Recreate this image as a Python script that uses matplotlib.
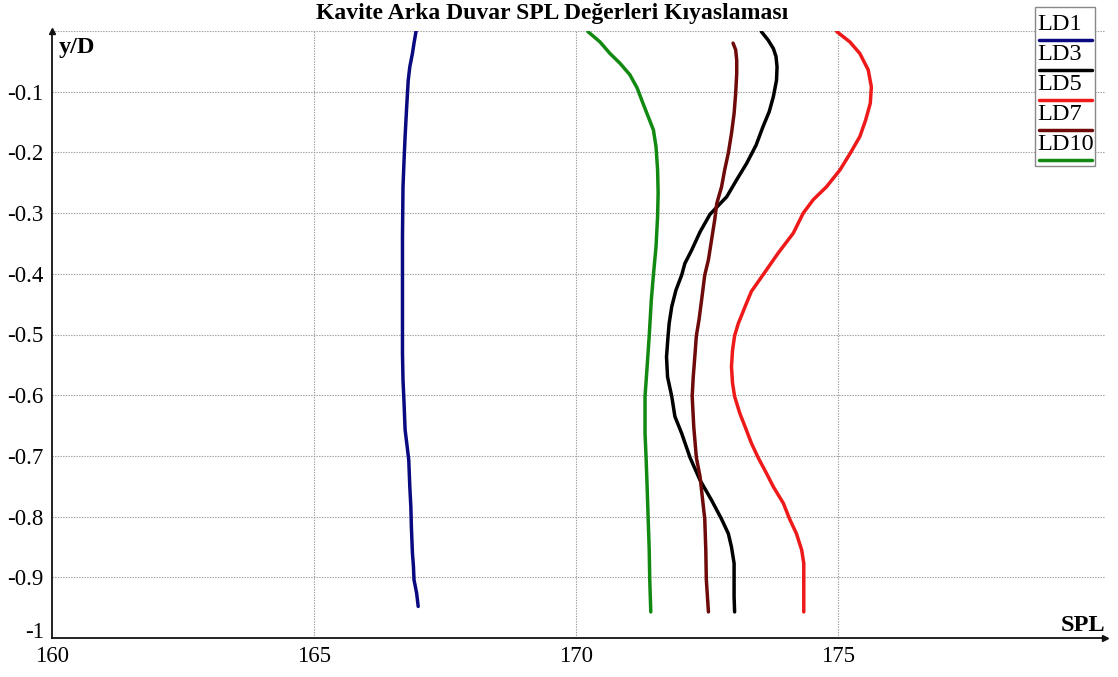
import matplotlib
matplotlib.use("Agg")
import matplotlib.pyplot as plt
from matplotlib.lines import Line2D
from matplotlib.patches import Rectangle

plt.rcParams['font.family'] = ['Liberation Serif', 'DejaVu Serif']

# SPL profiles along the cavity back wall (x: SPL, y: y/D)
ld1_spl = [166.95, 166.91, 166.88, 166.83, 166.80, 166.77, 166.74, 166.72, 166.70,
           166.69, 166.69, 166.69, 166.70, 166.72, 166.74, 166.78, 166.81, 166.83,
           166.85, 166.86, 166.88, 166.90, 166.91, 166.96, 166.99]
ld1_y = [0.0, -0.020, -0.037, -0.059, -0.081, -0.125, -0.174, -0.213, -0.257,
         -0.339, -0.421, -0.531, -0.575, -0.613, -0.657, -0.685, -0.707, -0.751,
         -0.784, -0.817, -0.860, -0.883, -0.904, -0.926, -0.948]

ld3_spl = [173.54, 173.67, 173.77, 173.82, 173.84, 173.83, 173.77, 173.69, 173.57,
           173.44, 173.26, 173.07, 172.88, 172.56, 172.37, 172.21, 172.08, 172.02,
           171.91, 171.83, 171.78, 171.76, 171.73, 171.75, 171.83, 171.89, 172.02,
           172.18, 172.37, 172.59, 172.78, 172.91, 172.97, 173.02, 173.02, 173.02,
           173.03]
ld3_y = [-0.001, -0.015, -0.029, -0.042, -0.059, -0.081, -0.108, -0.133, -0.158,
         -0.188, -0.218, -0.245, -0.273, -0.302, -0.331, -0.361, -0.383, -0.402,
         -0.427, -0.454, -0.482, -0.502, -0.537, -0.570, -0.602, -0.635, -0.663,
         -0.703, -0.740, -0.773, -0.804, -0.828, -0.850, -0.877, -0.904, -0.932,
         -0.957]

ld5_spl = [174.98, 175.23, 175.42, 175.58, 175.64, 175.62, 175.53, 175.42, 175.24,
           175.04, 174.78, 174.53, 174.34, 174.15, 173.86, 173.57, 173.35, 173.23,
           173.10, 173.03, 172.99, 172.97, 172.99, 173.03, 173.13, 173.23, 173.35,
           173.48, 173.64, 173.77, 173.96, 174.08, 174.21, 174.31, 174.35, 174.35,
           174.35]
ld5_y = [-0.001, -0.018, -0.037, -0.064, -0.092, -0.119, -0.147, -0.174, -0.201,
         -0.229, -0.257, -0.278, -0.300, -0.333, -0.366, -0.402, -0.429, -0.454,
         -0.482, -0.502, -0.526, -0.553, -0.580, -0.602, -0.630, -0.652, -0.679,
         -0.703, -0.729, -0.751, -0.778, -0.804, -0.828, -0.855, -0.877, -0.904,
         -0.957]

ld7_spl = [173.00, 173.05, 173.07, 173.07, 173.05, 173.02, 172.97, 172.91, 172.84,
           172.78, 172.69, 172.65, 172.59, 172.53, 172.46, 172.40, 172.35, 172.30,
           172.27, 172.24, 172.22, 172.25, 172.30, 172.37, 172.42, 172.46, 172.48,
           172.49, 172.53]
ld7_y = [-0.020, -0.031, -0.048, -0.070, -0.103, -0.136, -0.169, -0.201, -0.229,
         -0.257, -0.284, -0.311, -0.344, -0.377, -0.402, -0.443, -0.476, -0.502,
         -0.537, -0.570, -0.602, -0.652, -0.703, -0.734, -0.773, -0.804, -0.855,
         -0.904, -0.957]

ld10_spl = [170.23, 170.46, 170.65, 170.84, 171.03, 171.17, 171.28, 171.38, 171.48,
            171.53, 171.56, 171.57, 171.56, 171.53, 171.48, 171.44, 171.40, 171.36,
            171.32, 171.32, 171.34, 171.36, 171.38, 171.40, 171.41, 171.43]
ld10_y = [-0.001, -0.018, -0.037, -0.053, -0.072, -0.094, -0.119, -0.141, -0.163,
          -0.191, -0.229, -0.267, -0.305, -0.355, -0.402, -0.443, -0.502, -0.553,
          -0.602, -0.663, -0.703, -0.751, -0.804, -0.855, -0.904, -0.957]

series_names = ["LD1", "LD3", "LD5", "LD7", "LD10"]
series_x = [ld1_spl, ld3_spl, ld5_spl, ld7_spl, ld10_spl]
series_y = [ld1_y, ld3_y, ld5_y, ld7_y, ld10_y]
colors = ["#0a0a80", "#000000", "#ee1a1a", "#6e0a0a", "#128a12"]

x_ticks = [160, 165, 170, 175]
y_ticks = [-0.1, -0.2, -0.3, -0.4, -0.5, -0.6, -0.7, -0.8, -0.9, -1.0]
y_tick_labels = ["-0.1", "-0.2", "-0.3", "-0.4", "-0.5", "-0.6", "-0.7", "-0.8", "-0.9", "-1"]

fig = plt.figure(figsize=(11.18, 6.77), dpi=100)
ax = fig.add_axes([52 / 1118, 39 / 677, 1053 / 1118, 607 / 677])
ax.set_xlim(160, 180.1)
ax.set_ylim(-1.0, 0.0)

# dotted grid
grid_kw = dict(color="#9a9a9a", lw=0.8, linestyle=(0, (1.2, 1.2)), zorder=0)
for gx in [165, 170, 175]:
    ax.axvline(gx, **grid_kw)
for gy in [0.0, -0.1, -0.2, -0.3, -0.4, -0.5, -0.6, -0.7, -0.8, -0.9]:
    ax.axhline(gy, **grid_kw)

for xs, ys, c in zip(series_x, series_y, colors):
    ax.plot(xs, ys, color=c, lw=2.5, solid_capstyle="round", solid_joinstyle="round", zorder=3)

for s in ["top", "right"]:
    ax.spines[s].set_visible(False)
for s in ["left", "bottom"]:
    ax.spines[s].set_linewidth(1.3)
    ax.spines[s].set_color("#111111")

ax.plot(1, 0, ">", color="#111111", ms=5, transform=ax.transAxes, clip_on=False)
ax.plot(0, 1, "^", color="#111111", ms=5, transform=ax.transAxes, clip_on=False)

ax.set_xticks(x_ticks)
ax.set_xticklabels([str(t) for t in x_ticks], fontsize=16.5)
ax.set_yticks(y_ticks)
ax.set_yticklabels(y_tick_labels, fontsize=16.5)
ax.tick_params(axis="y", length=0, pad=6)
ax.tick_params(axis="x", length=0, pad=6)
# keep the bottom y label clear of the first x label
for lbl in ax.get_yticklabels():
    if lbl.get_text() == "-1":
        lbl.set_va("baseline")

ax.text(0.006, 0.99, "y/D", transform=ax.transAxes, fontsize=17.5, fontweight="bold",
        ha="left", va="top")
ax.text(1.0, 0.003, "SPL", transform=ax.transAxes, fontsize=17.5, fontweight="bold",
        ha="right", va="bottom")

fig.text(552 / 1118, 1 - 13 / 677, "Kavite Arka Duvar SPL Değerleri Kıyaslaması",
         fontsize=17, fontweight="bold", ha="center", va="center")

# legend: label above its line sample
W, H = 1118, 677
fig.add_artist(Rectangle((1035 / W, 1 - 166 / H), 60 / W, 159 / H, transform=fig.transFigure,
                         facecolor="white", edgecolor="#888888", lw=1.0, zorder=5))
for i, (name, c) in enumerate(zip(series_names, colors)):
    ty = 24 + 30 * i
    ly = 40 + 30 * i
    fig.text(1037 / W, 1 - ty / H, name, fontsize=17.5, ha="left", va="center", zorder=6)
    fig.add_artist(Line2D([1039 / W, 1092 / W], [1 - ly / H, 1 - ly / H], color=c, lw=2.5,
                          transform=fig.transFigure, zorder=6, solid_capstyle="round"))

fig.savefig("out.png", dpi=100, facecolor="white")
